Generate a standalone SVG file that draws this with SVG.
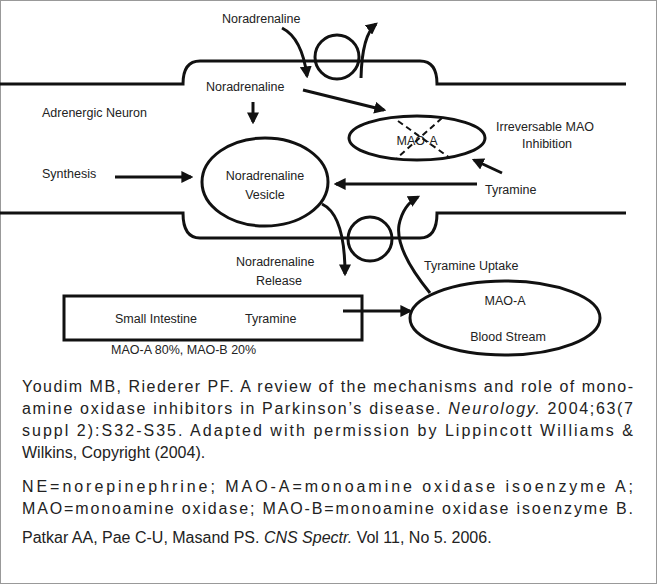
<svg xmlns="http://www.w3.org/2000/svg" width="657" height="584" viewBox="0 0 657 584">
<defs>
<marker id="ah" viewBox="0 0 10 10" refX="8" refY="5" markerWidth="4" markerHeight="4" orient="auto"><path d="M0,0 L10,5 L0,10 z" fill="#111"/></marker>
<style>
.l{fill:none;stroke:#111;stroke-width:3}
.a{fill:none;stroke:#111;stroke-width:3;marker-end:url(#ah)}
.t{font-family:"Liberation Sans",Arial,sans-serif;font-size:12.5px;fill:#222}
.c{font-family:"Liberation Sans",Arial,sans-serif;font-size:16px;fill:#222}
</style>
</defs>
<rect x="0.5" y="0.5" width="656" height="583" fill="#fff" stroke="#999"/>
<g id="membranes">
<path class="l" d="M0,84 H183 Q183,61 200,61 H420 Q437,61 437,84 H626"/>
<path class="l" d="M0,213 H183 Q183,238 200,238 H420 Q437,238 437,213 H626"/>
</g>
<g id="transporter-top"><circle class="l" cx="337" cy="57" r="22"/></g>
<g id="transporter-bottom"><circle class="l" cx="370" cy="239" r="22"/></g>
<g id="vesicle"><ellipse class="l" cx="265" cy="182" rx="63" ry="44"/><text class="t" x="265" y="180" text-anchor="middle">Noradrenaline</text><text class="t" x="265" y="199" text-anchor="middle">Vesicle</text></g>
<g id="maoa"><ellipse class="l" cx="417" cy="138" rx="68" ry="22"/><text class="t" x="417" y="145" text-anchor="middle">MAO-A</text>
<path d="M398,121 L450,158 M442,118 L397,158" stroke="#111" stroke-width="2" stroke-dasharray="6,4" fill="none"/></g>
<g id="blood"><ellipse class="l" cx="505" cy="318" rx="95" ry="37"/><text class="t" x="505" y="305" text-anchor="middle">MAO-A</text><text class="t" x="508" y="341" text-anchor="middle">Blood Stream</text></g>
<g id="intestine"><rect class="l" x="64" y="296" width="298" height="44"/><text class="t" x="115" y="323">Small Intestine</text><text class="t" x="245" y="323">Tyramine</text></g>
<g id="labels">
<text class="t" x="222" y="23">Noradrenaline</text>
<text class="t" x="206" y="91">Noradrenaline</text>
<text class="t" x="42" y="117">Adrenergic Neuron</text>
<text class="t" x="496" y="131">Irreversable MAO</text>
<text class="t" x="522" y="148">Inhibition</text>
<text class="t" x="42" y="178">Synthesis</text>
<text class="t" x="485" y="194">Tyramine</text>
<text class="t" x="236" y="266">Noradrenaline</text>
<text class="t" x="256" y="285">Release</text>
<text class="t" x="424" y="270">Tyramine Uptake</text>
<text class="t" x="111" y="354">MAO-A 80%, MAO-B 20%</text>
</g>
<g id="connectors">
<path class="a" d="M282,28 Q302,38 307,76"/>
<path class="a" d="M361,78 Q362,35 376,24"/>
<path class="a" d="M303,90 L384,110"/>
<path class="a" d="M253,102 V122"/>
<path class="a" d="M115,177 H191"/>
<path class="a" d="M477,184 H336"/>
<path class="a" d="M502,173 L474,160"/>
<path class="a" d="M322,204 Q345,215 345,274"/>
<path class="a" d="M430,293 Q395,250 399,225 Q403,205 418,197"/>
<path class="a" d="M343,311 H410"/>
</g>
<g id="caption">
<text class="c" x="22" y="392" textLength="611" lengthAdjust="spacing">Youdim MB, Riederer PF. A review of the mechanisms and role of mono-</text>
<text class="c" x="22" y="414" textLength="611" lengthAdjust="spacing">amine oxidase inhibitors in Parkinson’s disease. <tspan font-style="italic">Neurology.</tspan> 2004;63(7</text>
<text class="c" x="22" y="436" textLength="611" lengthAdjust="spacing">suppl 2):S32-S35. Adapted with permission by Lippincott Williams &amp;</text>
<text class="c" x="22" y="458">Wilkins, Copyright (2004).</text>
<text class="c" x="22" y="492" textLength="611" lengthAdjust="spacing">NE=norepinephrine; MAO-A=monoamine oxidase isoenzyme A;</text>
<text class="c" x="22" y="514" textLength="611" lengthAdjust="spacing">MAO=monoamine oxidase; MAO-B=monoamine oxidase isoenzyme B.</text>
<text class="c" x="22" y="543">Patkar AA, Pae C-U, Masand PS. <tspan font-style="italic">CNS Spectr.</tspan> Vol 11, No 5. 2006.</text>
</g>
</svg>
